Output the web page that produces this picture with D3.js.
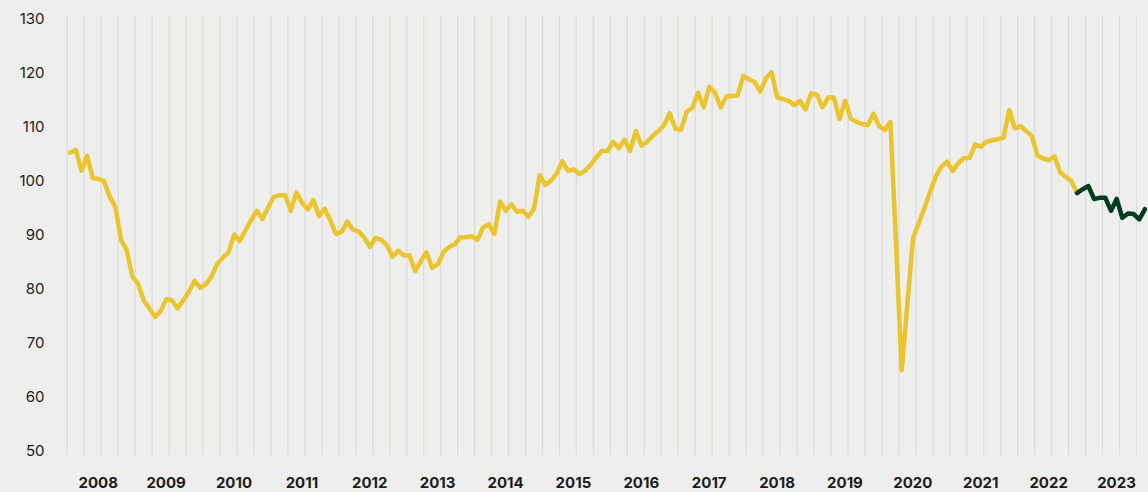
<!DOCTYPE html>
<html>
<head>
<meta charset="utf-8">
<script src="https://cdn.jsdelivr.net/npm/d3@7"></script>
<style>
  html, body { margin: 0; padding: 0; background: #eeeeec; }
  svg { display: block; }
  .axis text { font-family: Inter, "Noto Sans", sans-serif; fill: #1c1c1c; }
</style>
</head>
<body>
<svg id="chart" width="1148" height="492"></svg>
<script>

// monthly index values, first point is Jan 2008
let startYear = 2008;

let actual = [
  105.1, 105.6, 101.7, 104.5, 100.4, 100.2, 99.8, 96.9, 95.0, 88.9, 87.0, 82.1,    // 2008
  80.8, 77.7, 76.2, 74.6, 75.7, 77.9, 77.7, 76.2, 77.7, 79.3, 81.3, 80.0,          // 2009
  80.7, 82.1, 84.5, 85.6, 86.6, 89.9, 88.7, 90.7, 92.6, 94.3, 92.8, 94.9,          // 2010
  96.9, 97.2, 97.2, 94.3, 97.7, 95.8, 94.6, 96.3, 93.3, 94.7, 92.5, 90.0,          // 2011
  90.4, 92.3, 90.8, 90.5, 89.3, 87.6, 89.3, 88.9, 87.9, 85.8, 86.9, 86.0,          // 2012
  86.0, 83.1, 85.0, 86.6, 83.7, 84.4, 86.6, 87.6, 88.1, 89.4, 89.4, 89.6,          // 2013
  88.9, 91.2, 91.8, 90.0, 96.0, 94.3, 95.5, 94.1, 94.3, 93.2, 94.7, 100.9,         // 2014
  99.1, 99.9, 101.2, 103.5, 101.7, 102.0, 101.1, 101.7, 102.8, 104.2, 105.4, 105.4, // 2015
  107.1, 105.9, 107.5, 105.4, 109.1, 106.4, 107.1, 108.2, 109.1, 110.2, 112.4, 109.5, // 2016
  109.3, 112.7, 113.4, 116.2, 113.5, 117.3, 116.2, 113.5, 115.5, 115.6, 115.7, 119.3, // 2017
  118.7, 118.2, 116.4, 118.9, 120.0, 115.3, 115.0, 114.7, 113.9, 114.7, 113.1, 116.1, // 2018
  115.8, 113.5, 115.3, 115.3, 111.3, 114.7, 111.4, 110.8, 110.4, 110.2, 112.3, 110.0, // 2019
  109.3, 110.8, 88.0, 64.7, 77.0, 89.2, 92.0, 94.7, 97.8, 100.6, 102.5, 103.4,      // 2020
  101.7, 103.1, 104.1, 104.1, 106.6, 106.2, 107.1, 107.4, 107.6, 107.9, 113.0, 109.6, // 2021
  110.0, 109.1, 108.2, 104.6, 104.0, 103.7, 104.4, 101.4, 100.6, 99.8, 97.6         // 2022 (to Nov)
];

// projection, starts on the last actual month (Nov 2022)
let forecast = [97.6, 98.3, 98.9, 96.5, 96.7, 96.7, 94.3, 96.5, 93.0, 93.8, 93.7, 92.7, 94.6];

let yTicks = [50, 60, 70, 80, 90, 100, 110, 120, 130];
let years = [2008, 2009, 2010, 2011, 2012, 2013, 2014, 2015, 2016, 2017, 2018, 2019, 2020, 2021, 2022, 2023];

let colors = { actual: '#eac52f', forecast: '#033d1f', grid: '#dcdcda' };

let svg = d3.select('#chart');

// 16 years of months, the right end is cut by the picture edge
let nmonths = 16 * 12;
let xscale = d3.scaleLinear().domain([0, nmonths]).range([67.3, 67.3 + nmonths * 5.657]);
let yscale = d3.scaleLinear().domain([50, 130]).range([449.7, 18.3]);

// vertical gridlines every quarter
svg.append('g')
  .attr('class', 'grid')
  .selectAll('line')
  .data(d3.range(0, nmonths, 3))
  .enter()
  .append('line')
    .attr('x1', d => xscale(d))
    .attr('x2', d => xscale(d))
    .attr('y1', 16)
    .attr('y2', 455.5)
    .attr('stroke', colors.grid)
    .attr('stroke-width', 1.3);

// y axis, labels only
let yAxis = d3.axisLeft(yscale).tickValues(yTicks).tickSize(0).tickPadding(0);
let gy = svg.append('g')
  .attr('class', 'y axis')
  .attr('transform', 'translate(44.5,0)')
  .call(yAxis);
gy.select('.domain').remove();
gy.selectAll('text')
  .style('font-size', '15px')
  .attr('dy', '0.36em');

// x axis: year labels in the middle of each year
let gx = svg.append('g').attr('class', 'x axis');
gx.selectAll('text')
  .data(years)
  .enter()
  .append('text')
    .attr('x', d => xscale((d - startYear) * 12 + 6) - 3)
    .attr('y', 487.5)
    .attr('text-anchor', 'middle')
    .style('font-size', '15px')
    .style('font-weight', 700)
    .text(d => d);

let line = d3.line()
  .x(d => xscale(d.m + 0.5))
  .y(d => yscale(d.v));

let actualPts = actual.map((v, i) => ({ m: i, v: v }));
let offset = actual.length - 1;
let forecastPts = forecast.map((v, i) => ({ m: offset + i, v: v }));

svg.append('path')
  .datum(actualPts)
  .attr('d', line)
  .attr('fill', 'none')
  .attr('stroke', colors.actual)
  .attr('stroke-width', 4.5)
  .attr('stroke-linejoin', 'round')
  .attr('stroke-linecap', 'round');

svg.append('path')
  .datum(forecastPts)
  .attr('d', line)
  .attr('fill', 'none')
  .attr('stroke', colors.forecast)
  .attr('stroke-width', 4.5)
  .attr('stroke-linejoin', 'round')
  .attr('stroke-linecap', 'round');

</script>
</body>
</html>
